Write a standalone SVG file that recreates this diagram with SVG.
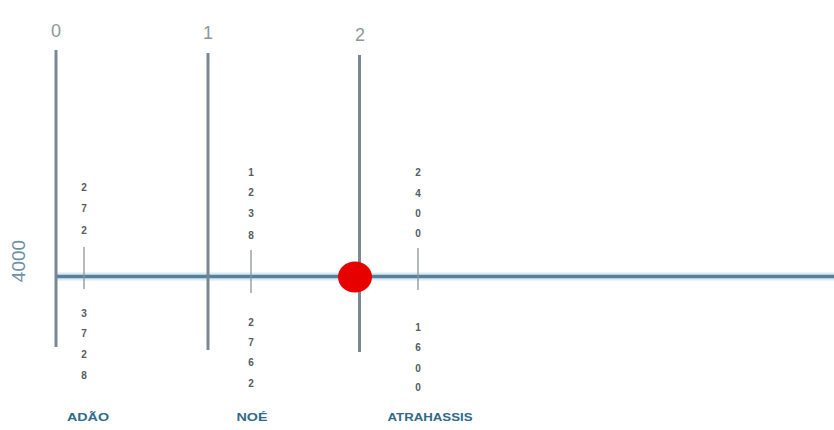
<svg xmlns="http://www.w3.org/2000/svg" width="834" height="430" viewBox="0 0 834 430">
<style>
.axis{stroke:#5a7d98;stroke-width:3.5;fill:none}
.vline{stroke:#7a8893;stroke-width:3;fill:none}
.tick{stroke:#8a949c;stroke-width:1.3;fill:none}
.num{font-family:"Liberation Sans",Arial,sans-serif;font-size:18px;fill:#8d969c;text-anchor:middle}
.dig{font-family:"Liberation Sans",Arial,sans-serif;font-size:10px;font-weight:bold;fill:#555a5e;text-anchor:middle}
.lbl{font-family:"Liberation Sans",Arial,sans-serif;font-size:11px;font-weight:bold;fill:#2f6a88;text-anchor:middle}
.year{font-family:"Liberation Sans",Arial,sans-serif;font-size:19px;fill:#6f8fa6;text-anchor:middle}
</style>
<rect width="834" height="430" fill="#ffffff"/>
<g id="connectors">
<line x1="57" y1="276.5" x2="834" y2="276.5" stroke="#d6ecf6" stroke-width="8"/>
<line class="axis" x1="57" y1="276.5" x2="834" y2="276.5"/>
<line class="vline" x1="56" y1="50" x2="56" y2="347"/>
<line class="vline" x1="208" y1="53" x2="208" y2="350"/>
<line class="vline" x1="359.5" y1="55" x2="359.5" y2="352"/>
<line class="tick" x1="84" y1="247" x2="84" y2="289"/>
<line class="tick" x1="251" y1="250" x2="251" y2="293"/>
<line class="tick" x1="418" y1="248" x2="418" y2="290"/>
</g>
<g id="label-0"><text class="num" x="56" y="37">0</text></g>
<g id="label-1"><text class="num" x="208" y="39">1</text></g>
<g id="label-2"><text class="num" x="360" y="41">2</text></g>
<g id="year-4000"><text class="year" transform="translate(25,261) rotate(-90)">4000</text></g>
<g id="marker-red"><ellipse cx="355" cy="277" rx="17" ry="15.5" fill="#e60000"/></g>
<g id="adao">
<text class="dig" x="84" y="191">2</text>
<text class="dig" x="84" y="212">7</text>
<text class="dig" x="84" y="234">2</text>
<text class="dig" x="84" y="317">3</text>
<text class="dig" x="84" y="337">7</text>
<text class="dig" x="84" y="358">2</text>
<text class="dig" x="84" y="379">8</text>
<text class="lbl" x="88" y="421" textLength="42" lengthAdjust="spacingAndGlyphs">ADÃO</text>
</g>
<g id="noe">
<text class="dig" x="251" y="176">1</text>
<text class="dig" x="251" y="196">2</text>
<text class="dig" x="251" y="217">3</text>
<text class="dig" x="251" y="239">8</text>
<text class="dig" x="251" y="326">2</text>
<text class="dig" x="251" y="346">7</text>
<text class="dig" x="251" y="366">6</text>
<text class="dig" x="251" y="387">2</text>
<text class="lbl" x="252" y="421" textLength="31" lengthAdjust="spacingAndGlyphs">NOÉ</text>
</g>
<g id="atrahassis">
<text class="dig" x="418" y="176">2</text>
<text class="dig" x="418" y="197">4</text>
<text class="dig" x="418" y="217">0</text>
<text class="dig" x="418" y="237">0</text>
<text class="dig" x="418" y="331">1</text>
<text class="dig" x="418" y="351">6</text>
<text class="dig" x="418" y="372">0</text>
<text class="dig" x="418" y="391">0</text>
<text class="lbl" x="430" y="421" textLength="85" lengthAdjust="spacingAndGlyphs">ATRAHASSIS</text>
</g>
</svg>
